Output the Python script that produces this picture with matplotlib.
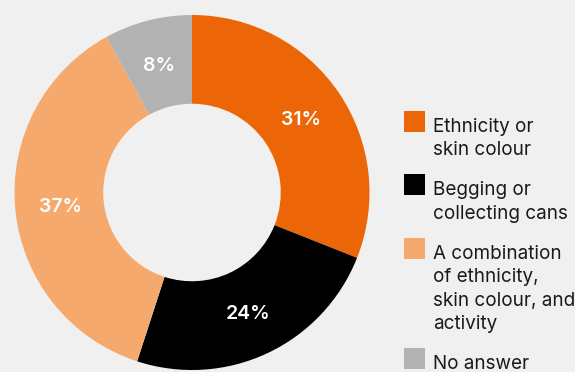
import matplotlib
matplotlib.use("Agg")
import matplotlib.pyplot as plt
from matplotlib.patches import Rectangle

categories = [
    "Ethnicity or\nskin colour",
    "Begging or\ncollecting cans",
    "A combination\nof ethnicity,\nskin colour, and\nactivity",
    "No answer",
]
shares = [31, 24, 37, 8]
colors = ["#EC6608", "#000000", "#F6A96C", "#B2B2B2"]
bg = "#F0F0F0"

W, H = 575, 372
fig = plt.figure(figsize=(W / 100, H / 100), dpi=100, facecolor=bg)

# donut: centre (192, 192.5) px from top-left, outer radius 177.5 px
cx, cy, r = 192, 192.5, 177.5
ax = fig.add_axes([(cx - r) / W, (H - cy - r) / H, 2 * r / W, 2 * r / H])
ax.set_facecolor(bg)
wedges, texts, autotexts = ax.pie(
    shares,
    colors=colors,
    startangle=90,
    counterclock=False,
    radius=1,
    pctdistance=0.745,
    autopct=lambda p: f"{p:.0f}%",
    wedgeprops=dict(width=0.5, linewidth=0),
    textprops=dict(color="white", fontsize=14, fontweight="semibold", family="Inter"),
)
for t in autotexts:
    t.set_va("center_baseline")
ax.set_xlim(-1, 1)
ax.set_ylim(-1, 1)
ax.set_aspect("equal")
ax.axis("off")

# legend drawn in pixel coordinates
sq_x, sq_size = 404, 21
txt_x = 433
line_gap, entry_gap = 23.4, 40
baseline = 132
for label, color in zip(categories, colors):
    lines = label.split("\n")
    fig.patches.append(Rectangle((sq_x / W, (H - baseline) / H), sq_size / W, sq_size / H,
                                 transform=fig.transFigure, facecolor=color, edgecolor="none"))
    for i, line in enumerate(lines):
        y = baseline + i * line_gap
        fig.text(txt_x / W, (H - y) / H, line, fontsize=13.6, family="Inter",
                 color="#1A1A1A", va="baseline", ha="left")
    baseline += (len(lines) - 1) * line_gap + entry_gap

fig.savefig("out.png", dpi=100, facecolor=bg)
